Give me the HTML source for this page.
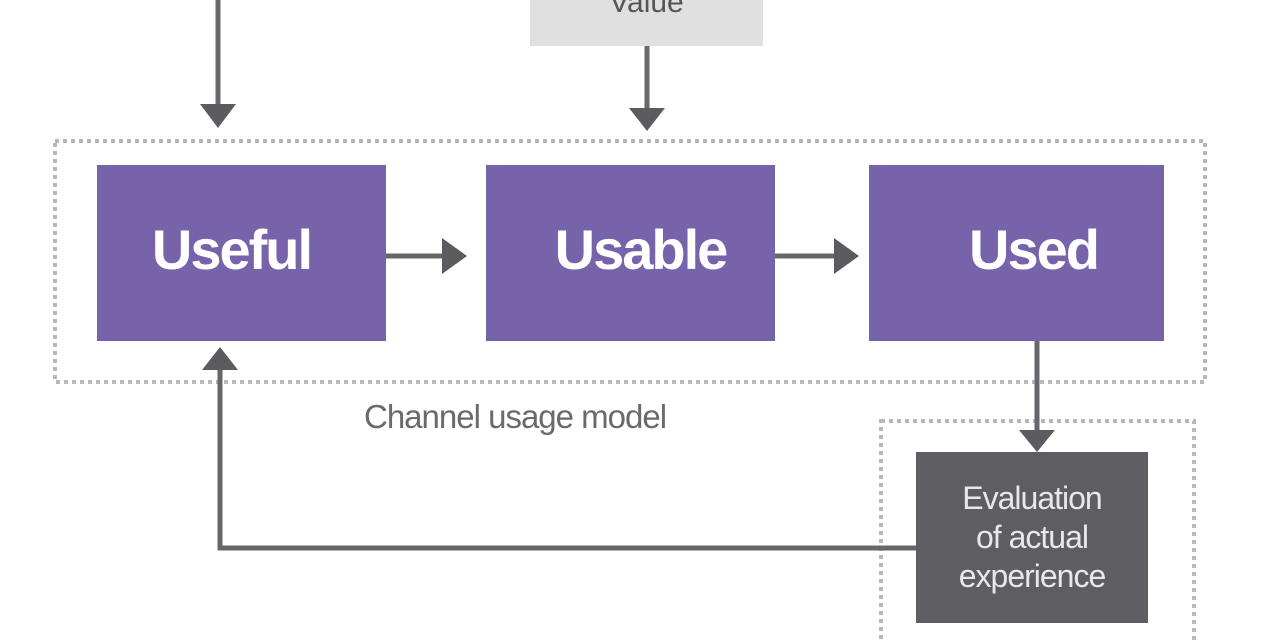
<!DOCTYPE html>
<html><head><style>
body{margin:0;width:1280px;height:640px;background:#fff;overflow:hidden;position:relative;font-family:"Liberation Sans",sans-serif}
.b{position:absolute;display:flex;align-items:center;justify-content:center;text-align:center}
.p{background:#7763aa;color:#fff;font-size:56px;font-weight:bold;letter-spacing:-2px}
</style></head><body>
<svg width="1280" height="640" style="position:absolute;left:0;top:0">
<rect x="530" y="-10" width="233" height="56" fill="#e0e0e0"/>
<rect x="55" y="141" width="1150" height="241" fill="none" stroke="#b8b8b8" stroke-width="4" stroke-dasharray="4 4"/>
<rect x="881" y="421" width="313" height="240" fill="none" stroke="#b8b8b8" stroke-width="4" stroke-dasharray="4 4"/>
<g stroke="#67676b" stroke-width="5" fill="none">
<line x1="218" y1="0" x2="218" y2="108"/>
<line x1="647" y1="46" x2="647" y2="112"/>
<line x1="386" y1="256" x2="446" y2="256"/>
<line x1="775" y1="256" x2="838" y2="256"/>
<line x1="1037" y1="341" x2="1037" y2="432"/>
<polyline points="916,548 220,548 220,370"/>
</g>
<g fill="#5c5c60">
<polygon points="200,104 236,104 218,128"/>
<polygon points="629,108 665,108 647,131"/>
<polygon points="442,238 442,274 467,256"/>
<polygon points="834,238 834,274 859,256"/>
<polygon points="1019,430 1055,430 1037,452"/>
<polygon points="202,370 238,370 220,347"/>
</g>
</svg>
<div class="b" style="left:530px;top:-22px;width:233px;height:50px;font-size:30px;color:#555">Value</div>
<div class="b p" style="left:97px;top:165px;width:289px;height:176px"><span style="position:relative;left:-10px;top:-4px">Useful</span></div>
<div class="b p" style="left:486px;top:165px;width:289px;height:176px"><span style="position:relative;left:10px;top:-4px">Usable</span></div>
<div class="b p" style="left:869px;top:165px;width:295px;height:176px"><span style="position:relative;left:17px;top:-4px">Used</span></div>
<div class="b" style="left:916px;top:452px;width:232px;height:171px;background:#5e5e62;color:#e8e8e8;font-size:32px;line-height:39px;letter-spacing:-1px">Evaluation<br>of actual<br>experience</div>
<div style="position:absolute;left:364px;top:398px;font-size:33px;color:#6a6a6e;letter-spacing:-1px">Channel usage model</div>
</body></html>
